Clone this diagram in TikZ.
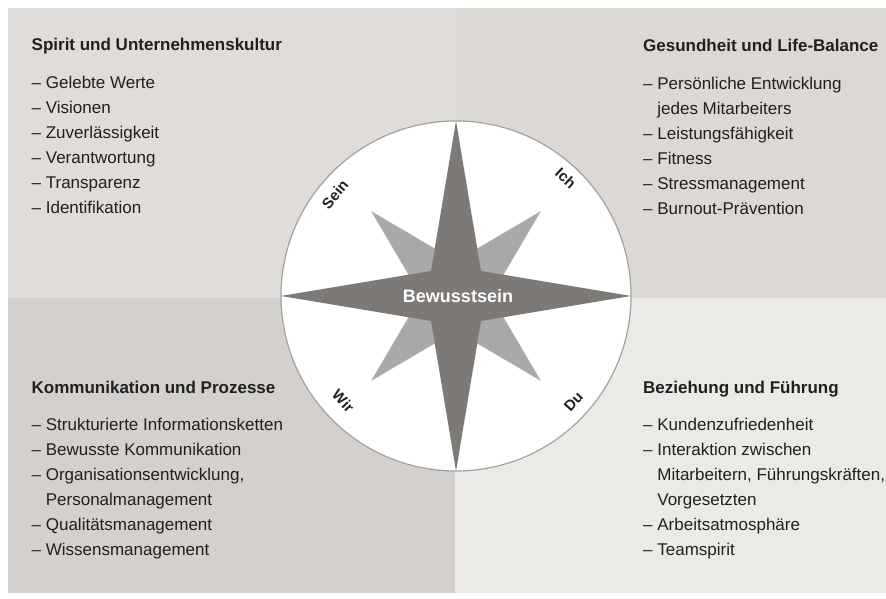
\documentclass[tikz,border=0pt]{standalone}
\usepackage{fontspec}
\setmainfont{Liberation Sans}
\definecolor{bgtl}{HTML}{DFDCD9}
\definecolor{bgtr}{HTML}{DCD8D4}
\definecolor{bgbl}{HTML}{D3D0CD}
\definecolor{bgbr}{HTML}{ECEAE7}
\definecolor{darkstar}{HTML}{7C7977}
\definecolor{lightstar}{HTML}{ABA9A7}
\definecolor{rim}{HTML}{A3A19F}
\definecolor{txt}{HTML}{202020}
\begin{document}
\begin{tikzpicture}[x=1pt,y=1pt,
  heading/.style={anchor=base west,inner sep=0pt,font=\fontsize{17}{20}\selectfont\bfseries,text=txt},
  listitem/.style={anchor=base west,inner sep=0pt,font=\fontsize{17}{20}\selectfont,text=txt},
  ringlabel/.style={inner sep=0pt,font=\fontsize{15}{18}\selectfont\bfseries,text=txt}]
\useasboundingbox (0,0) rectangle (886,599);
\fill[white] (0,0) rectangle (886,599);
\fill[bgtl] (8,301) rectangle (455,591);
\fill[bgtr] (455,301) rectangle (886,591);
\fill[bgbl] (8,6) rectangle (455,301);
\fill[bgbr] (455,6) rectangle (886,301);
\begin{scope}[shift={(456,303)}]
\coordinate (c) at (0,0);
\draw[rim,line width=1.2pt,fill=white] (c) circle (175);
\fill[lightstar] (45:120) -- (90:35) -- (135:120) -- (180:35) -- (225:120) -- (270:35) -- (315:120) -- (0:35) -- cycle;
\fill[darkstar] (0,175) -- (25,25) -- (175,0) -- (25,-25) -- (0,-175) -- (-25,-25) -- (-175,0) -- (-25,25) -- cycle;
\node[inner sep=0pt,font=\fontsize{18}{20}\selectfont\bfseries,text=white] (bewusst) at (2,0) {Bewusstsein};
\node[ringlabel,rotate=50] (sein) at (140:158) {Sein};
\node[ringlabel,rotate=-43] (ich) at (47:161) {Ich};
\node[ringlabel,rotate=-47] (wir) at (223:154) {Wir};
\node[ringlabel,rotate=48] (du) at (318:158) {Du};
\end{scope}
\node[heading] (spirit) at (31.5,548) {Spirit und Unternehmenskultur};
\foreach \t [count=\i] in {Gelebte Werte,Visionen,Zuverlässigkeit,Verantwortung,Transparenz,Identifikation}
  \node[listitem] (spirit\i) at (31.5,535-25*\i) {– \t};
\node[heading] (gesund) at (643,547) {Gesundheit und Life-Balance};
\foreach \t [count=\i] in {– Persönliche Entwicklung,\phantom{– }jedes Mitarbeiters,– Leistungsfähigkeit,– Fitness,– Stressmanagement,– Burnout-Prävention}
  \node[listitem] (gesund\i) at (643,534-25*\i) {\t};
\node[heading] (komm) at (31.5,205) {Kommunikation und Prozesse};
\foreach \t [count=\i] in {– Strukturierte Informationsketten,– Bewusste Kommunikation,{– Organisationsentwicklung,},\phantom{– }Personalmanagement,– Qualitätsmanagement,– Wissensmanagement}
  \node[listitem] (komm\i) at (31.5,193-25*\i) {\t};
\node[heading] (bez) at (643,205) {Beziehung und Führung};
\foreach \t [count=\i] in {– Kundenzufriedenheit,– Interaktion zwischen,{\phantom{– }Mitarbeitern, Führungskräften,},\phantom{– }Vorgesetzten,– Arbeitsatmosphäre,– Teamspirit}
  \node[listitem] (bez\i) at (643,193-25*\i) {\t};
\end{tikzpicture}
\end{document}
